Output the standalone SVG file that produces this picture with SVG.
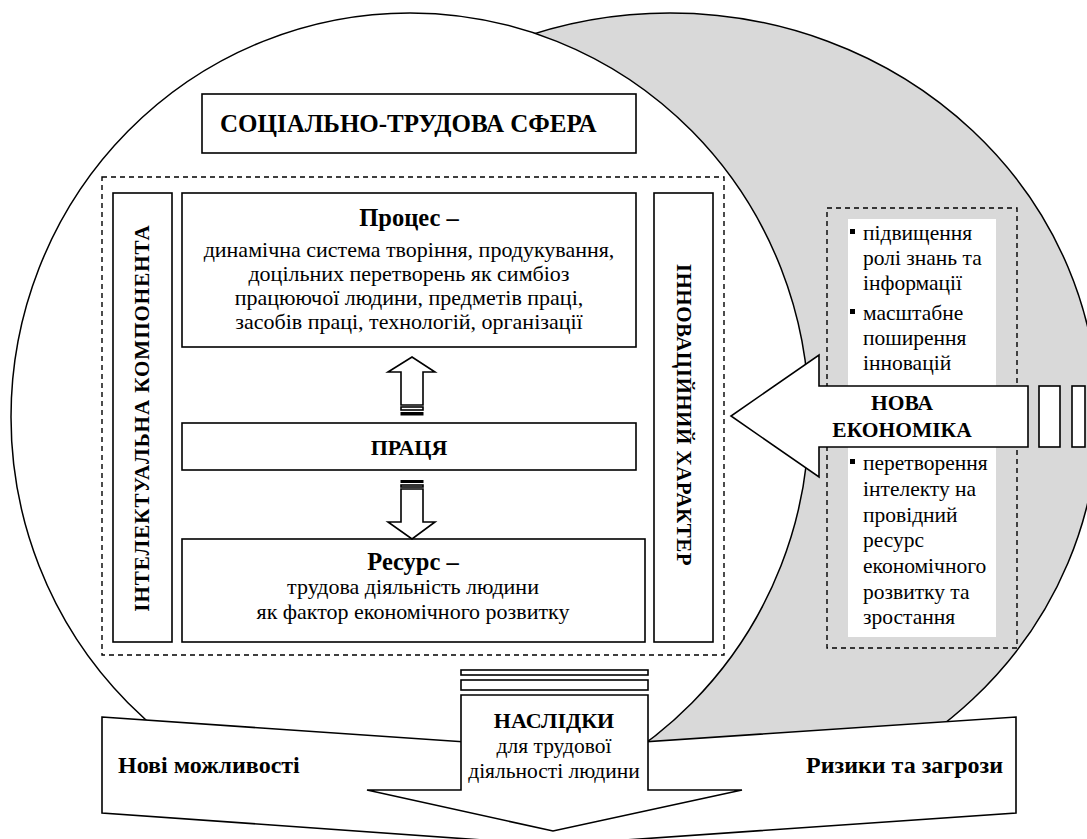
<svg xmlns="http://www.w3.org/2000/svg" width="1087" height="839" viewBox="0 0 1087 839">
<style>
.ln{fill:none;stroke:#000;stroke-width:1.5}
.box{fill:#fff;stroke:#000;stroke-width:1.6}
.dash{fill:none;stroke:#000;stroke-width:1.4;stroke-dasharray:5,4}
text{font-family:"Liberation Serif","Times New Roman",serif;fill:#000}
.b{font-weight:bold}
.c{text-anchor:middle}
.t22{font-size:22px}
</style>
<rect width="1087" height="839" fill="#fff"/>
<g id="new-economy-sphere">
<ellipse cx="670" cy="415" rx="428" ry="402" fill="#d9d9d9" stroke="#000" stroke-width="1.5"/>
</g>
<g id="social-labour-sphere">
<ellipse cx="410" cy="417" rx="399" ry="404" fill="#fff" stroke="#000" stroke-width="1.5"/>
</g>
<g id="title">
<rect class="box" x="202" y="94" width="434" height="59"/>
<text class="b" x="220" y="132" font-size="25">СОЦІАЛЬНО-ТРУДОВА СФЕРА</text>
</g>
<g id="labour-frame">
<rect class="dash" x="102" y="177" width="622" height="478"/>
</g>
<g id="intellectual">
<rect class="box" x="113" y="193" width="59" height="449"/>
<text class="b c" transform="translate(149,418) rotate(-90)" font-size="21" letter-spacing="1">ІНТЕЛЕКТУАЛЬНА  КОМПОНЕНТА</text>
</g>
<g id="innovative">
<rect class="box" x="654" y="193" width="59" height="449"/>
<text class="b c" transform="translate(677,415) rotate(90)" font-size="21" letter-spacing="0.5">ІННОВАЦІЙНИЙ  ХАРАКТЕР</text>
</g>
<g id="process">
<rect class="box" x="182" y="193" width="454" height="154"/>
<text class="b c" x="409" y="226" font-size="24.5">Процес –</text>
<text class="c t22" x="409" y="257">динамічна система творіння, продукування,</text>
<text class="c t22" x="409" y="281">доцільних перетворень як симбіоз</text>
<text class="c t22" x="409" y="305">працюючої людини, предметів праці,</text>
<text class="c t22" x="409" y="329">засобів праці, технологій, організації</text>
</g>
<g id="labour">
<rect class="box" x="182" y="423" width="454" height="47"/>
<text class="b c" x="409" y="455" font-size="22">ПРАЦЯ</text>
</g>
<g id="resource">
<rect class="box" x="182" y="539" width="463" height="103"/>
<text class="b c" x="413" y="570" font-size="24.5">Ресурс –</text>
<text class="c t22" x="413" y="594">трудова діяльність людини</text>
<text class="c t22" x="413" y="619">як фактор економічного розвитку</text>
</g>
<g id="features">
<rect class="dash" x="827" y="208" width="190" height="440"/>
<rect x="848" y="219" width="148" height="418" fill="#fff"/>
<g font-size="21.5">
<rect x="850" y="229" width="5" height="5"/>
<text x="863" y="240">підвищення</text>
<text x="863" y="265">ролі знань та</text>
<text x="863" y="290">інформації</text>
<rect x="850" y="309" width="5" height="5"/>
<text x="863" y="320">масштабне</text>
<text x="863" y="345">поширення</text>
<text x="863" y="370">інновацій</text>
<rect x="850" y="459" width="5" height="5"/>
<text x="863" y="470">перетворення</text>
<text x="863" y="496">інтелекту на</text>
<text x="863" y="522">провідний</text>
<text x="863" y="547">ресурс</text>
<text x="863" y="573">економічного</text>
<text x="863" y="599">розвитку та</text>
<text x="863" y="624">зростання</text>
</g>
</g>
<g id="consequences-field">
<polygon class="box" points="102,717 553,748 1016,717 1016,813 553,845 102,813"/>
<text class="b" x="118" y="773" font-size="24">Нові можливості</text>
<text class="b" x="806" y="773" font-size="24">Ризики та загрози</text>
</g>
<g id="connectors">
<g id="arrow-up">
<polygon class="box" points="401,405 401,372 388,372 412,357 435,372 423,372 423,405"/>
<rect class="box" x="401" y="407" width="22" height="3" stroke-width="1.2"/>
<rect x="400.5" y="412" width="23" height="3.5"/>
</g>
<g id="arrow-down">
<rect x="400.5" y="480" width="23" height="3"/>
<rect class="box" x="401" y="485" width="22" height="2" stroke-width="1.2"/>
<polygon class="box" points="401,489 423,489 423,522 435,522 412,539 388,522 401,522"/>
</g>
<g id="arrow-new-economy">
<polygon class="box" points="1028,386 819,386 819,355 731,416 819,477 819,447 1028,447"/>
<rect class="box" x="1039" y="386" width="21" height="61"/>
<rect class="box" x="1072" y="386" width="13" height="61"/>
</g>
<g id="arrow-consequences">
<rect class="box" x="461" y="670" width="187" height="5"/>
<rect class="box" x="461" y="680" width="187" height="10"/>
<polygon class="box" points="461,695 648,695 648,790 742,790 553,831 367,790 461,790"/>
</g>
</g>
<g id="new-economy-label">
<text class="b c" x="902" y="410" font-size="21.5">НОВА</text>
<text class="b c" x="902" y="437" font-size="21.5">ЕКОНОМІКА</text>
</g>
<g id="consequences-label">
<text class="b c" x="554" y="728" font-size="22">НАСЛІДКИ</text>
<text class="c" x="554" y="753" font-size="21.5">для трудової</text>
<text class="c" x="554" y="778" font-size="21.5">діяльності людини</text>
</g>
</svg>
